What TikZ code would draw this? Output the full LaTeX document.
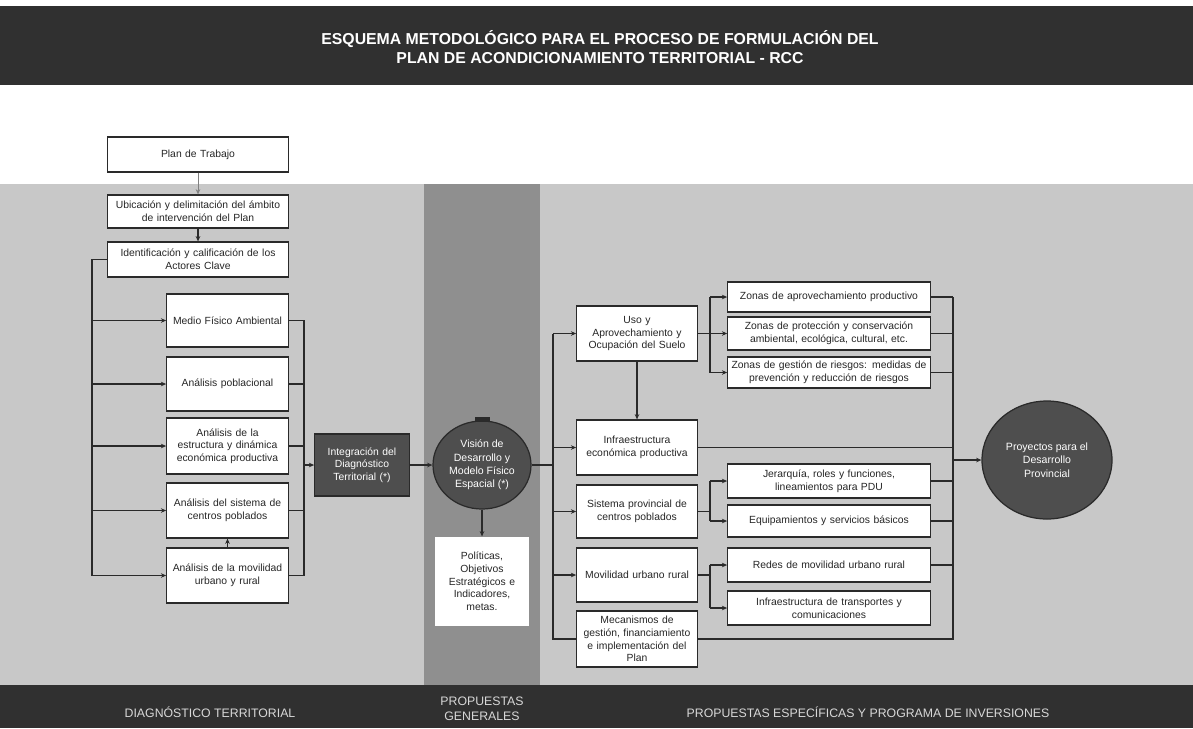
\documentclass[tikz,border=0pt]{standalone}
\usepackage{fontspec}
\setmainfont{Liberation Sans}
\usetikzlibrary{arrows.meta,shapes.geometric}
\definecolor{bgg}{HTML}{C8C8C8}
\definecolor{midg}{HTML}{8F8F8F}
\definecolor{barg}{HTML}{303030}
\definecolor{dkn}{HTML}{4E4E4E}
\definecolor{lnc}{HTML}{2A2A2A}
\definecolor{btxt}{HTML}{D8D8D8}
\tikzset{
 box/.style={draw=lnc, fill=white, line width=0.7pt, inner sep=1pt, align=center,
   font=\fontsize{5.9}{7.2}\selectfont, text=black!85},
 darkbox/.style={box, fill=dkn, text=white},
 dkell/.style={ellipse, draw=lnc, fill=dkn, line width=0.7pt, inner sep=0pt, align=center,
   font=\fontsize{6}{7.6}\selectfont, text=white},
 ln/.style={draw=lnc, line width=0.7pt},
 arr/.style={ln, -{Stealth[length=3pt,width=2.6pt]}},
 bartext/.style={font=\fontsize{7}{8.6}\selectfont, text=btxt, align=center},
 titletext/.style={font=\bfseries\fontsize{9}{11}\selectfont, text=white, align=center},
}
\newcommand\bx[7]{%
 \pgfmathsetlengthmacro\bxw{(#4-#2)*0.02cm}%
 \pgfmathsetlengthmacro\bxh{(#5-#3)*0.02cm}%
 \pgfmathsetlengthmacro\bxt{(#4-#2-3)*0.02cm}%
 \node[#7, minimum width=\bxw, minimum height=\bxh, text width=\bxt] (#1) at ({(#2+#4)/2},{(#3+#5)/2}) {#6};}
\begin{document}
\begin{tikzpicture}[x=0.02cm,y=-0.02cm]
\useasboundingbox (0,0) rectangle (1193,728);
% backgrounds
\fill[white] (0,0) rectangle (1193,728);
\fill[barg] (0,6) rectangle (1193,85);
\fill[bgg] (0,184) rectangle (1193,685);
\fill[midg] (424,184) rectangle (540,685);
\fill[barg] (0,685) rectangle (1193,728);
% bar texts
\node[titletext] (title) at (600,47) {ESQUEMA METODOLÓGICO PARA EL PROCESO DE FORMULACIÓN DEL\\PLAN DE ACONDICIONAMIENTO TERRITORIAL - RCC};
\node[bartext] (b1) at (210,712) {DIAGNÓSTICO TERRITORIAL};
\node[bartext] (b2) at (482,709) {PROPUESTAS\\GENERALES};
\node[bartext] (b3) at (868,712) {PROPUESTAS ESPECÍFICAS Y PROGRAMA DE INVERSIONES};
% trunk coordinates drawn under boxes
\coordinate (L2) at (553,333.5);
\coordinate (L2b) at (553,639);
\coordinate (R2b) at (953,639);
\coordinate (R2) at (953,297);
\draw[ln] (L2) -- (L2b) -- (R2b) -- (R2);
% left boxes
\bx{plan}{108}{137}{288}{172}{Plan de Trabajo}{box}
\bx{ubic}{108}{195}{288}{228}{Ubicación y delimitación del ámbito\\de intervención del Plan}{box}
\bx{ident}{108}{242}{288}{277}{Identificación y calificación de los\\Actores Clave}{box}
\bx{medio}{167}{294}{288}{347}{Medio Físico Ambiental}{box}
\bx{pobl}{167}{357}{288}{411}{Análisis poblacional}{box}
\bx{estr}{167}{418}{288}{474}{Análisis de la\\estructura y dinámica\\económica productiva}{box}
\bx{cent}{167}{483}{288}{538}{Análisis del sistema de\\centros poblados}{box}
\bx{movil}{167}{548}{288}{603}{Análisis de la movilidad\\urbano y rural}{box}
\bx{integ}{315}{434}{409}{496}{Integración del\\Diagnóstico\\Territorial (*)}{darkbox}
\node[dkell, minimum width=98*0.02cm, minimum height=88*0.02cm] (vision) at (482,465) {Visión de\\Desarrollo y\\Modelo Físico\\Espacial (*)};
\fill[lnc] (475,417) rectangle (490,422);
\bx{pol}{435}{537}{529}{626}{Políticas,\\Objetivos\\Estratégicos e\\Indicadores,\\metas.}{box, draw=none}
% right boxes
\bx{uso}{577}{306}{697}{361}{Uso y\\Aprovechamiento y\\Ocupación del Suelo}{box}
\bx{infra}{577}{420}{697}{475}{Infraestructura\\económica productiva}{box}
\bx{sist}{577}{485}{697}{538}{Sistema provincial de\\centros poblados}{box}
\bx{movur}{577}{548}{697}{602}{Movilidad urbano rural}{box}
\bx{meca}{577}{611}{697}{667}{Mecanismos de\\gestión, financiamiento\\e implementación del\\Plan}{box}
\bx{z1}{728}{282}{930}{312}{Zonas de aprovechamiento productivo}{box}
\bx{z2}{728}{317}{930}{350}{Zonas de protección y conservación\\ambiental, ecológica, cultural, etc.}{box}
\bx{z3}{728}{357}{930}{388}{Zonas de gestión de riesgos: medidas de\\prevención y reducción de riesgos}{box}
\bx{jer}{728}{464}{930}{498}{Jerarquía, roles y funciones,\\lineamientos para PDU}{box}
\bx{equip}{728}{505}{930}{537}{Equipamientos y servicios básicos}{box}
\bx{redes}{728}{548}{930}{582}{Redes de movilidad urbano rural}{box}
\bx{infr2}{728}{591}{930}{625}{Infraestructura de transportes y\\comunicaciones}{box}
\node[dkell, minimum width=130*0.02cm, minimum height=118*0.02cm] (proy) at (1047,460) {Proyectos para el\\Desarrollo\\Provincial};
% left connectors
\draw[arr, line width=0.4pt, draw=gray] (plan.south) -- (ubic.north);
\draw[arr] (ubic.south) -- (ident.north);
\coordinate (L1) at (92,259.5);
\draw[arr] (ident.west) -- (L1) |- (movil.west);
\foreach \n in {medio,pobl,estr,cent} \draw[arr] (L1 |- \n.west) -- (\n.west);
\coordinate (R1) at (304,320.5);
\draw[ln] (medio.east) -- (R1) |- (movil.east);
\foreach \n in {pobl,estr,cent} \draw[ln] (\n.east) -- (R1 |- \n.east);
\draw[arr] (R1 |- integ.west) -- (integ.west);
\draw[arr] (movil.north) -- (cent.south);
\draw[arr] (integ.east) -- (vision.west);
\draw[arr] (vision.south) -- (pol.north);
\draw[ln] (vision.east) -- (L2 |- vision.east);
% right connectors
\foreach \n in {uso,infra,sist,movur} \draw[arr] (L2 |- \n.west) -- (\n.west);
\draw[arr] (uso.south) -- (infra.north);
\draw[ln] (z1.east) -- (R2);
\foreach \n in {z2,z3,infra,jer,equip,redes} \draw[ln] (\n.east) -- (R2 |- \n.east);
\draw[arr] (R2 |- proy.west) -- (proy.west);
% brackets
\coordinate (B1) at (710,297);
\draw[ln] (uso.east) -- (B1 |- uso.east);
\draw[ln] (B1 |- z1.west) -- (B1 |- z3.west);
\foreach \n in {z1,z2,z3} \draw[arr] (B1 |- \n.west) -- (\n.west);
\draw[ln] (sist.east) -- (B1 |- sist.east);
\draw[ln] (B1 |- jer.west) -- (B1 |- equip.west);
\foreach \n in {jer,equip} \draw[arr] (B1 |- \n.west) -- (\n.west);
\draw[ln] (movur.east) -- (B1 |- movur.east);
\draw[ln] (B1 |- redes.west) -- (B1 |- infr2.west);
\foreach \n in {redes,infr2} \draw[arr] (B1 |- \n.west) -- (\n.west);
\end{tikzpicture}
\end{document}
